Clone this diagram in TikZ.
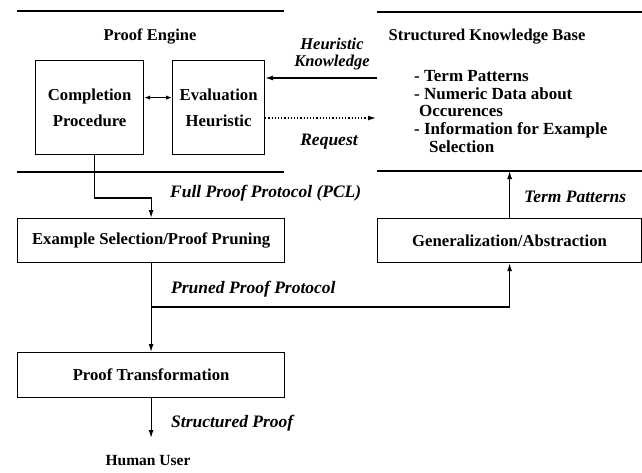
\documentclass[tikz,border=0pt]{standalone}
\usepackage{fontspec}
\setmainfont{Liberation Serif}
\usetikzlibrary{arrows.meta}
\begin{document}
\begin{tikzpicture}[x=1pt,y=-1pt,
  box/.style={draw, line width=1.2pt, inner sep=0pt, align=center, font=\bfseries\fontsize{16.7}{26}\selectfont},
  title/.style={inner sep=0pt, font=\bfseries\fontsize{16.5}{18}\selectfont},
  lbl/.style={inner sep=0pt, align=center, font=\bfseries\itshape\fontsize{17.5}{15}\selectfont},
  conn/.style={line width=1.2pt},
  sep/.style={line width=1.5pt},
  tip/.style={-{Latex[length=8pt,width=5pt]}},
  tips/.style={{Latex[length=6pt,width=4.5pt]}-{Latex[length=6pt,width=4.5pt]}}]
\useasboundingbox (0,0) rectangle (642,472);

% separator lines
\draw[sep] (17,11) -- (284,11);
\draw[sep] (377,12) -- (642,12);
\draw[sep] (17,172) -- (284,172);
\draw[sep] (377,171) -- (642,171);

% titles
\node[title] (pe) at (150,37) {Proof Engine};
\node[title] (skb) at (487,37) {Structured Knowledge Base};
\node[inner sep=0pt, anchor=north west, align=left, font=\bfseries\fontsize{17}{17.8}\selectfont] (list) at (414,70)
  {- Term Patterns\\- Numeric Data about\\\hspace*{5pt}Occurences\\- Information for Example\\\hspace*{15pt}Selection};

% boxes
\node[box, anchor=north west, minimum width=108pt, minimum height=94pt] (cp) at (35,60) {Completion\\Procedure};
\node[box, anchor=north west, minimum width=92pt, minimum height=94pt] (ev) at (172,60) {Evaluation\\Heuristic};
\node[box, anchor=north west, minimum width=267pt, minimum height=44pt] (ex) at (17,218) {Example Selection/Proof Pruning};
\node[box, anchor=north west, minimum width=264pt, minimum height=44pt] (gen) at (377,218) {Generalization/Abstraction};
\node[box, anchor=north west, minimum width=267pt, minimum height=45pt] (pt) at (17,352) {Proof Transformation};
\node[title, font=\bfseries\fontsize{15.5}{18}\selectfont] (hu) at (148,461) {Human User};

% coordinates
\coordinate (hk) at (377,78);
\coordinate (rq) at (376,118);
\coordinate (jn) at (ex.south |- 0,307);
\coordinate (tp) at (gen.north |- 0,171);
\coordinate (sp) at (pt.south |- 0,438);

% connectors
\draw[conn,tips] ([yshift=10pt]cp.east) -- ([yshift=10pt]ev.west);
\draw[conn,tip] (hk) -- (hk -| ev.east);
\draw[conn,tip,dotted] (rq -| ev.east) -- (rq);
\draw[conn,tip] ([xshift=5pt]cp.south) |- (0,198 -| ex.north) -- (ex.north);
\draw[conn,tip] (ex.south) -- (pt.north);
\draw[conn,tip] (jn) -| (gen.south);
\draw[conn,tip] (gen.north) -- (tp);
\draw[conn,tip] (pt.south) -- (sp);

% labels
\node[lbl, font=\bfseries\itshape\fontsize{16.5}{16.5}\selectfont] (lhk) at (332,54) {Heuristic\\Knowledge};
\node[lbl] (lrq) at (329,142) {Request};
\node[lbl, anchor=west] (lfp) at (170,193) {Full Proof Protocol (PCL)};
\node[lbl, anchor=west] (ltp) at (524,197) {Term Patterns};
\node[lbl, anchor=west] (lpp) at (171,289) {Pruned Proof Protocol};
\node[lbl, anchor=west] (lsp) at (171,423) {Structured Proof};
\end{tikzpicture}
\end{document}
